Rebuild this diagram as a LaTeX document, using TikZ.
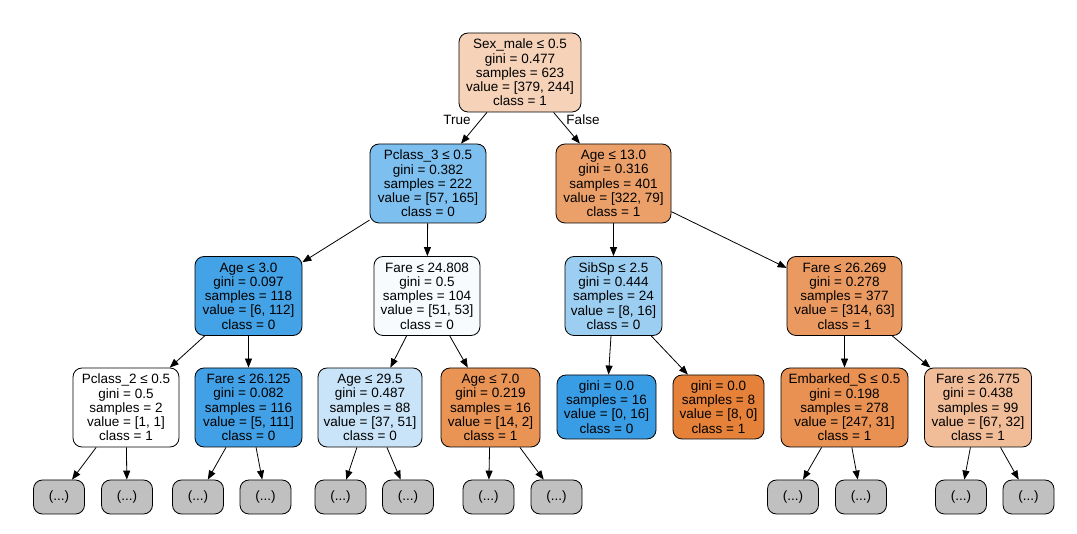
\documentclass[tikz,border=0pt]{standalone}
\usepackage{fontspec}
\setmainfont{Liberation Sans}
\usetikzlibrary{arrows.meta}
\definecolor{cRoot}{HTML}{F6D2B8}
\definecolor{cPthree}{HTML}{7DBFEE}
\definecolor{cAgeT}{HTML}{EBA06A}
\definecolor{cAgeThree}{HTML}{44A2E6}
\definecolor{cFareA}{HTML}{F7FBFE}
\definecolor{cSib}{HTML}{9CCEF2}
\definecolor{cFareB}{HTML}{EA9A61}
\definecolor{cFareC}{HTML}{42A1E6}
\definecolor{cAgeNine}{HTML}{C9E4F8}
\definecolor{cAgeSeven}{HTML}{E99355}
\definecolor{cBlue}{HTML}{399DE5}
\definecolor{cOrange}{HTML}{E58139}
\definecolor{cEmb}{HTML}{E89152}
\definecolor{cFareD}{HTML}{F1BD98}
\definecolor{cLeaf}{HTML}{C0C0C0}
\tikzset{
  tnode/.style={draw, rounded corners=9pt, align=center, inner sep=0pt, line width=0.8pt,
    font=\fontsize{13.5}{14.3}\selectfont, minimum height=79pt},
  snode/.style={tnode, minimum height=64pt},
  leaf/.style={draw, rounded corners=9pt, inner sep=0pt, line width=0.8pt, fill=cLeaf,
    font=\fontsize{13.5}{14.3}\selectfont, minimum width=51pt, minimum height=34pt},
  edge/.style={line width=0.8pt, -{Triangle[length=9pt,width=7pt]}},
  elab/.style={font=\fontsize{13.5}{14.3}\selectfont, inner sep=0pt}
}
\begin{document}
\begin{tikzpicture}[x=1pt,y=-1pt]
\useasboundingbox (0,0) rectangle (1077,534);
% level 1
\node[tnode, fill=cRoot, minimum width=122pt] (root) at (520,72.5)
  {Sex\_male ≤ 0.5\\gini = 0.477\\samples = 623\\value = [379, 244]\\class = 1};
% level 2
\node[tnode, fill=cPthree, minimum width=116pt] (p3) at (428,183.5)
  {Pclass\_3 ≤ 0.5\\gini = 0.382\\samples = 222\\value = [57, 165]\\class = 0};
\node[tnode, fill=cAgeT, minimum width=115pt] (a13) at (613.5,183.5)
  {Age ≤ 13.0\\gini = 0.316\\samples = 401\\value = [322, 79]\\class = 1};
% level 3
\node[tnode, fill=cAgeThree, minimum width=107pt] (a3) at (248.5,296)
  {Age ≤ 3.0\\gini = 0.097\\samples = 118\\value = [6, 112]\\class = 0};
\node[tnode, fill=cFareA, minimum width=106pt] (f24) at (427,296)
  {Fare ≤ 24.808\\gini = 0.5\\samples = 104\\value = [51, 53]\\class = 0};
\node[tnode, fill=cSib, minimum width=97pt] (sib) at (613.5,296)
  {SibSp ≤ 2.5\\gini = 0.444\\samples = 24\\value = [8, 16]\\class = 0};
\node[tnode, fill=cFareB, minimum width=115pt] (f262) at (844.5,296)
  {Fare ≤ 26.269\\gini = 0.278\\samples = 377\\value = [314, 63]\\class = 1};
% level 4
\node[tnode, fill=white, minimum width=106pt] (p2) at (126,407.5)
  {Pclass\_2 ≤ 0.5\\gini = 0.5\\samples = 2\\value = [1, 1]\\class = 1};
\node[tnode, fill=cFareC, minimum width=107pt] (f261) at (248.5,407.5)
  {Fare ≤ 26.125\\gini = 0.082\\samples = 116\\value = [5, 111]\\class = 0};
\node[tnode, fill=cAgeNine, minimum width=104pt] (a29) at (370,407.5)
  {Age ≤ 29.5\\gini = 0.487\\samples = 88\\value = [37, 51]\\class = 0};
\node[tnode, fill=cAgeSeven, minimum width=99pt] (a7) at (490.5,407.5)
  {Age ≤ 7.0\\gini = 0.219\\samples = 16\\value = [14, 2]\\class = 1};
\node[snode, fill=cBlue, minimum width=99pt] (lb) at (606.5,407)
  {gini = 0.0\\samples = 16\\value = [0, 16]\\class = 0};
\node[snode, fill=cOrange, minimum width=91pt] (lo) at (718.5,407)
  {gini = 0.0\\samples = 8\\value = [8, 0]\\class = 1};
\node[tnode, fill=cEmb, minimum width=127pt] (emb) at (844.5,407.5)
  {Embarked\_S ≤ 0.5\\gini = 0.198\\samples = 278\\value = [247, 31]\\class = 1};
\node[tnode, fill=cFareD, minimum width=107pt] (f267) at (978,407.5)
  {Fare ≤ 26.775\\gini = 0.438\\samples = 99\\value = [67, 32]\\class = 1};
% leaves
\node[leaf] (l1) at (59,497) {(...)};
\node[leaf] (l2) at (127,497) {(...)};
\node[leaf] (l3) at (198,497) {(...)};
\node[leaf] (l4) at (265.5,497) {(...)};
\node[leaf] (l5) at (340.5,497) {(...)};
\node[leaf] (l6) at (408,497) {(...)};
\node[leaf] (l7) at (488.5,497) {(...)};
\node[leaf] (l8) at (556.5,497) {(...)};
\node[leaf] (l9) at (793,497) {(...)};
\node[leaf] (l10) at (861,497) {(...)};
\node[leaf] (l11) at (961,497) {(...)};
\node[leaf] (l12) at (1028.5,497) {(...)};
% edges
\draw[edge] (root) -- (p3);
\draw[edge] (root) -- (a13);
\draw[edge] (p3) -- (a3);
\draw[edge] (p3) -- (f24);
\draw[edge] (a13) -- (sib);
\draw[edge] (a13) -- (f262);
\draw[edge] (a3) -- (p2);
\draw[edge] (a3) -- (f261);
\draw[edge] (f24) -- (a29);
\draw[edge] (f24) -- (a7);
\draw[edge] (sib) -- (lb);
\draw[edge] (sib) -- (lo);
\draw[edge] (f262) -- (emb);
\draw[edge] (f262) -- (f267);
\draw[edge] (p2) -- (l1);
\draw[edge] (p2) -- (l2);
\draw[edge] (f261) -- (l3);
\draw[edge] (f261) -- (l4);
\draw[edge] (a29) -- (l5);
\draw[edge] (a29) -- (l6);
\draw[edge] (a7) -- (l7);
\draw[edge] (a7) -- (l8);
\draw[edge] (emb) -- (l9);
\draw[edge] (emb) -- (l10);
\draw[edge] (f267) -- (l11);
\draw[edge] (f267) -- (l12);
% edge labels
\node[elab] (tl) at (457,120) {True};
\node[elab] (fl) at (583,120) {False};
\end{tikzpicture}
\end{document}
